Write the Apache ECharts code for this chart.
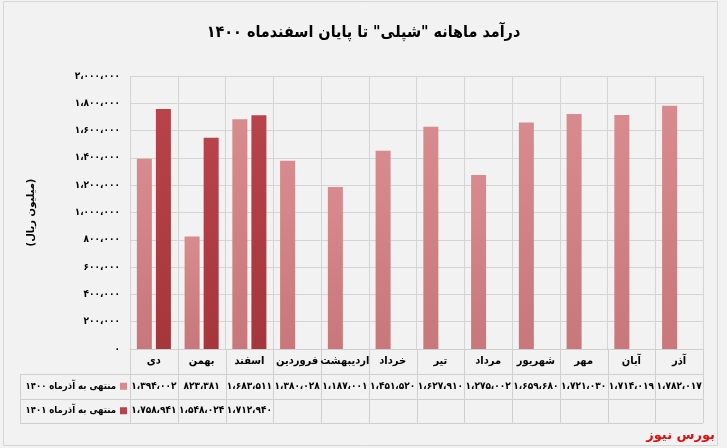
<!DOCTYPE html>
<html><head><meta charset="utf-8">
<script src="https://cdn.jsdelivr.net/npm/echarts@6/dist/echarts.min.js"></script>
<style>html,body{margin:0;padding:0;background:#ffffff}#c{width:727px;height:448px}</style>
</head><body><div id="c"></div>
<script>
// ---- data ----
const titleText = 'درآمد ماهانه "شپلی" تا پایان اسفندماه ۱۴۰۰';
const yAxisName = '(میلیون ریال)';
const categories = ['دی','بهمن','اسفند','فروردین','اردیبهشت','خرداد','تیر','مرداد','شهریور','مهر','آبان','آذر'];
const seriesNames = ['منتهی به آذرماه ۱۴۰۰','منتهی به آذرماه ۱۴۰۱'];
const values1400 = [1394002, 823381, 1683511, 1380028, 1187001, 1451520, 1627910, 1275002, 1659680, 1721030, 1714019, 1782017];
const values1401 = [1758941, 1548024, 1712940, null, null, null, null, null, null, null, null, null];
const yMin = 0, yMax = 2000000, yInterval = 200000;
const sourceText = 'بورس نیوز';

// ---- helpers ----
const FA = '۰۱۲۳۴۵۶۷۸۹';
function toFa(n){
  return Math.round(n).toLocaleString('en-US').replace(/,/g,'،').replace(/\d/g, d => FA[d]);
}
const FONT = '"DejaVu Sans", "Noto Sans", sans-serif';
const CFONT = '"DejaVu Sans Condensed", "DejaVu Sans", sans-serif';
const c1400 = '#d88b8e', c1400b = '#c8777a';
const c1401 = '#b8434a', c1401b = '#a5363c';

const chart = echarts.init(document.getElementById('c'), null, {renderer:'canvas'});
const grid = {left:130, right:24, top:76, bottom:99};
chart.setOption({
  backgroundColor:'#f2f2f2',
  animation:false,
  textStyle:{fontFamily:FONT},
  title:{text:titleText, left:'center', top:20,
    textStyle:{fontFamily:CFONT, fontSize:16, fontWeight:'bold', color:'#000'}},
  grid:grid,
  xAxis:{type:'category', data:categories, boundaryGap:true,
    axisLine:{show:true, lineStyle:{color:'#cfcfcf'}},
    axisTick:{show:false},
    splitLine:{show:true, lineStyle:{color:'#d4d4d4'}},
    axisLabel:{margin:7, fontSize:11, fontWeight:'bold', color:'#000', fontFamily:CFONT, interval:0}},
  yAxis:{type:'value', min:yMin, max:yMax, interval:yInterval,
    name:yAxisName, nameLocation:'middle', nameGap:94, nameRotate:90,
    nameTextStyle:{fontSize:10, fontWeight:'bold', color:'#000', fontFamily:FONT},
    axisLine:{show:false}, axisTick:{show:false},
    splitLine:{lineStyle:{color:'#d4d4d4'}},
    axisLabel:{margin:10, fontSize:10, fontWeight:'bold', color:'#000', fontFamily:CFONT, formatter:v=>toFa(v)}},
  series:[
    {name:seriesNames[0], type:'bar', data:values1400, barWidth:15, barGap:'27%',
      itemStyle:{color:new echarts.graphic.LinearGradient(0,0,0,1,[{offset:0,color:c1400},{offset:1,color:c1400b}]),
        shadowColor:'rgba(0,0,0,0.28)', shadowBlur:3, shadowOffsetX:1.5, shadowOffsetY:0}},
    {name:seriesNames[1], type:'bar', data:values1401, barWidth:15,
      itemStyle:{color:new echarts.graphic.LinearGradient(0,0,0,1,[{offset:0,color:c1401},{offset:1,color:c1401b}]),
        shadowColor:'rgba(0,0,0,0.28)', shadowBlur:3, shadowOffsetX:1.5, shadowOffsetY:0}}
  ]
});

// ---- data table under the plot, positioned from the axis scales ----
const x0 = chart.convertToPixel({xAxisIndex:0}, categories[0]);
const x1 = chart.convertToPixel({xAxisIndex:0}, categories[1]);
const band = x1 - x0;
const yBase = chart.convertToPixel({yAxisIndex:0}, yMin);
const rowH = 24.5;
const row1Top = yBase + 25, row2Top = row1Top + rowH, tableBottom = row2Top + rowH;
const tableLeft = 20;
const gfx = [];
const lineStyle = {stroke:'#d0d0d0', lineWidth:1};
gfx.push({type:'rect', shape:{x:3.5, y:1.5, width:714, height:444}, style:{fill:null, stroke:'#d6d6d6', lineWidth:1}, silent:true, z:-1});
for (let i = 0; i <= categories.length; i++){
  const xb = Math.round(x0 - band/2 + i*band) + 0.5;
  gfx.push({type:'line', shape:{x1:xb, y1:yBase, x2:xb, y2:tableBottom}, style:lineStyle, silent:true});
}
gfx.push({type:'line', shape:{x1:tableLeft+0.5, y1:row1Top, x2:tableLeft+0.5, y2:tableBottom}, style:lineStyle, silent:true});
const right = x0 - band/2 + categories.length*band;
[row1Top, row2Top, tableBottom].forEach(y => {
  const yy = Math.round(y) + 0.5;
  gfx.push({type:'line', shape:{x1:tableLeft, y1:yy, x2:right, y2:yy}, style:lineStyle, silent:true});
});
const legendX = x0 - band/2 - 3;
[[seriesNames[0], c1400, row1Top], [seriesNames[1], c1401, row2Top]].forEach(([name, col, top]) => {
  const cy = top + rowH/2;
  gfx.push({type:'rect', shape:{x:legendX-7, y:cy-3.5, width:7, height:7}, style:{fill:col}, silent:true});
  gfx.push({type:'text', x:legendX-11, y:cy, style:{text:name, align:'right', verticalAlign:'middle',
    font:'bold 9.5px ' + CFONT, fill:'#000'}, silent:true});
});
[[values1400, row1Top], [values1401, row2Top]].forEach(([vals, top]) => {
  vals.forEach((v, i) => {
    if (v == null) return;
    const cx = chart.convertToPixel({xAxisIndex:0}, categories[i]);
    gfx.push({type:'text', x:cx, y:top + rowH/2, style:{text:toFa(v), align:'center', verticalAlign:'middle',
      font:'bold 10px ' + CFONT, fill:'#000'}, silent:true});
  });
});
gfx.push({type:'text', right:12, top:429, style:{text:sourceText, font:'bold 13px ' + FONT, fill:'#e01010'}, silent:true});
chart.setOption({graphic:gfx});
</script></body></html>
